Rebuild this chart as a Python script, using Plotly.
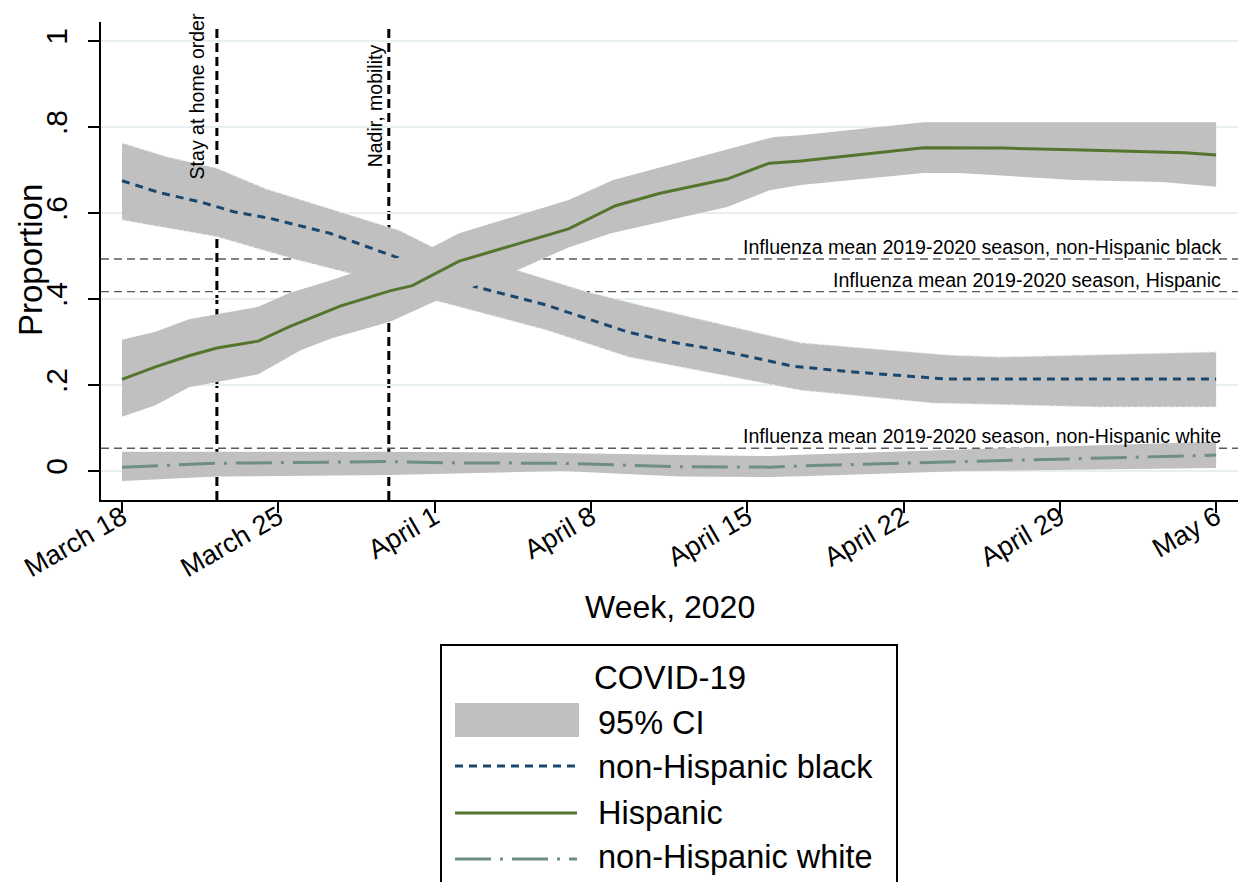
import plotly.graph_objects as go

# ---------------- data ----------------
tick_days = [0, 7, 14, 21, 28, 35, 42, 49]
tick_labels = ["March 18", "March 25", "April 1", "April 8", "April 15",
               "April 22", "April 29", "May 6"]
y_ticks = [0, 0.2, 0.4, 0.6, 0.8, 1.0]
y_tick_labels = ["0", ".2", ".4", ".6", ".8", "1"]

# days since March 18, 2020
black_days = [0, 1.7, 3.5, 4.25, 5.0, 6.6, 9.3, 12.4, 14.0, 15.8, 19.0, 20.8, 22.6,
              24.5, 26.3, 28.1, 30.0, 32.6, 34.8, 36.9, 49.0]
black_vals = [0.675, 0.647, 0.626, 0.615, 0.603, 0.588, 0.553, 0.495, 0.46, 0.429, 0.386,
              0.355, 0.324, 0.301, 0.285, 0.266, 0.244, 0.231, 0.223, 0.214, 0.214]
black_up_days = [0, 2.0, 4.25, 6.5, 9.3, 12.4, 13.9, 17.7, 20.8, 23.5, 30.4, 36.9, 39.3, 49.0]
black_up = [0.763, 0.731, 0.704, 0.655, 0.61, 0.56, 0.521, 0.467, 0.417, 0.382, 0.298,
            0.270, 0.265, 0.277]
black_lo_days = [0, 4.25, 7.7, 10.2, 12.4, 14.2, 19.0, 22.7, 30.4, 36.3, 43.8, 49.0]
black_lo = [0.584, 0.545, 0.493, 0.46, 0.435, 0.394, 0.328, 0.265, 0.188, 0.158, 0.149, 0.149]

hisp_days = [0, 1.5, 3.0, 4.25, 6.1, 7.5, 9.8, 12.0, 13.0, 15.1, 20.0, 22.1, 24.1, 27.1,
             29.0, 30.4, 35.9, 39.5, 42.6, 44.6, 47.6, 49.0]
hisp_vals = [0.213, 0.242, 0.268, 0.286, 0.302, 0.336, 0.384, 0.419, 0.431, 0.488, 0.563,
             0.617, 0.646, 0.679, 0.716, 0.721, 0.752, 0.751, 0.747, 0.744, 0.740, 0.735]
hisp_up_days = [0, 1.5, 3.0, 6.1, 7.5, 9.4, 12.0, 13.9, 15.1, 20.0, 22.0, 29.2, 30.4, 35.9, 49.0]
hisp_up = [0.305, 0.324, 0.353, 0.382, 0.414, 0.444, 0.49, 0.521, 0.553, 0.630, 0.677,
           0.777, 0.781, 0.811, 0.811]
hisp_lo_days = [0, 1.5, 3.0, 6.1, 8.0, 9.4, 12.0, 14.0, 15.8, 17.7, 20.0, 21.9, 27.1, 29.0,
                30.4, 35.9, 37.5, 42.6, 46.6, 49.0]
hisp_lo = [0.126, 0.153, 0.195, 0.225, 0.281, 0.309, 0.347, 0.394, 0.43, 0.467, 0.52, 0.553,
           0.614, 0.653, 0.665, 0.693, 0.693, 0.677, 0.672, 0.661]

white_days = [0, 4.25, 12.0, 14.6, 19.7, 25.0, 29.0, 30.4, 37.8, 42.0, 49.0]
white_vals = [0.009, 0.018, 0.022, 0.019, 0.018, 0.010, 0.009, 0.012, 0.022, 0.028, 0.037]
white_up_days = [0, 4.25, 12.0, 19.7, 25.0, 29.0, 30.4, 39.3, 49.0]
white_up = [0.045, 0.045, 0.045, 0.042, 0.037, 0.035, 0.038, 0.053, 0.068]
white_lo_days = [0, 4.25, 12.0, 19.7, 25.0, 29.0, 30.4, 37.8, 49.0]
white_lo = [-0.023, -0.013, -0.009, 0.0, -0.013, -0.014, -0.012, 0.0, 0.007]

flu_groups = ["non-Hispanic black", "Hispanic", "non-Hispanic white"]
flu_means = [0.493, 0.417, 0.053]

event_names = ["Stay at home order", "Nadir, mobility"]
event_days = [4.25, 11.95]

# ---------------- styling ----------------
FONT = "Liberation Sans, Arial, sans-serif"
NAVY = "#1a476f"
GREEN = "#55752f"
TEAL = "#6e8e84"
CI = "#c0c0c0"
GRID = "#e8eff2"
BLACK_DASH = "8px,6px"
WHITE_DASH = "36px,9px,3px,9px"

W, H = 1246, 882
OFF = 8  # page body margin
L, R, T, B = 101 - OFF, 16, 22 - OFF, 390
PW, PH = W - L - R, H - T - B


def px(x):  # screen x -> paper x
    return (x - OFF - L) / PW


def py(y):  # screen y -> paper y
    return (H - B - (y - OFF)) / PH


fig = go.Figure()


def band(up_x, up_y, lo_x, lo_y, name):
    fig.add_trace(go.Scatter(
        x=list(up_x) + list(lo_x)[::-1], y=list(up_y) + list(lo_y)[::-1],
        fill="toself", fillcolor=CI, mode="lines", line=dict(width=0),
        hoverinfo="skip", showlegend=False, name=name))


# non-Hispanic black
band(black_up_days, black_up, black_lo_days, black_lo, "CI black")
for xs, ys in [(black_up_days, black_up), (black_lo_days, black_lo)]:
    fig.add_trace(go.Scatter(x=xs, y=ys, mode="lines", showlegend=False, hoverinfo="skip",
                             line=dict(color="#e2ecee", width=1.2, dash="3px,3px")))
fig.add_trace(go.Scatter(x=black_days, y=black_vals, mode="lines", showlegend=False,
                         name="non-Hispanic black",
                         line=dict(color=NAVY, width=3, dash=BLACK_DASH)))
# Hispanic
band(hisp_up_days, hisp_up, hisp_lo_days, hisp_lo, "CI hisp")
fig.add_trace(go.Scatter(x=hisp_days, y=hisp_vals, mode="lines", showlegend=False,
                         name="Hispanic", line=dict(color=GREEN, width=3)))
# non-Hispanic white
band(white_up_days, white_up, white_lo_days, white_lo, "CI white")
fig.add_trace(go.Scatter(x=white_days, y=white_vals, mode="lines", showlegend=False,
                         name="non-Hispanic white",
                         line=dict(color=TEAL, width=3, dash=WHITE_DASH)))

# influenza reference lines + labels
for grp, m in zip(flu_groups, flu_means):
    fig.add_shape(type="line", xref="paper", yref="y", x0=0, x1=1, y0=m, y1=m,
                  layer="between", line=dict(color="#5a5a5a", width=1.3, dash="8px,5px"))
    fig.add_annotation(x=px(1223), xref="paper", y=m, yref="y", xanchor="right",
                       yanchor="bottom", showarrow=False, yshift=-1,
                       text=f"Influenza mean 2019-2020 season, {grp}",
                       font=dict(family=FONT, size=19.6, color="black"))

# event lines + labels
label_shift = [-20, -14]
label_center = [96.5, 105.5]
for name, d, sh, cy in zip(event_names, event_days, label_shift, label_center):
    fig.add_shape(type="line", xref="x", yref="paper", x0=d, x1=d, y0=0, y1=py(25),
                  layer="between", line=dict(color="black", width=3, dash="9px,5px"))
    fig.add_annotation(x=d, xref="x", xshift=sh, y=py(cy), yref="paper",
                       textangle=-90, showarrow=False, text=name,
                       xanchor="center", yanchor="middle",
                       font=dict(family=FONT, size=19.5, color="black"))

# axis titles
fig.add_annotation(x=px(30), y=py(260), xref="paper", yref="paper", text="Proportion",
                   textangle=-90, showarrow=False, xanchor="center", yanchor="middle",
                   font=dict(family=FONT, size=33, color="black"))
fig.add_annotation(x=px(670), y=py(607), xref="paper", yref="paper", text="Week, 2020",
                   showarrow=False, xanchor="center", yanchor="middle",
                   font=dict(family=FONT, size=32, color="black"))

# ---------------- manual legend ----------------
fig.add_shape(type="rect", xref="paper", yref="paper", x0=px(441), x1=px(897),
              y0=py(905), y1=py(645), line=dict(color="black", width=2))
fig.add_shape(type="rect", xref="paper", yref="paper", x0=px(455), x1=px(579),
              y0=py(737), y1=py(703), fillcolor=CI, line=dict(width=0))
for yy, col, dash in [(766, NAVY, BLACK_DASH), (813, GREEN, "solid"), (859, TEAL, WHITE_DASH)]:
    fig.add_shape(type="line", xref="paper", yref="paper", x0=px(455), x1=px(577),
                  y0=py(yy), y1=py(yy), line=dict(color=col, width=3, dash=dash))
fig.add_annotation(x=px(670), y=py(677), xref="paper", yref="paper", text="COVID-19",
                   showarrow=False, xanchor="center", yanchor="middle",
                   font=dict(family=FONT, size=33, color="black"))
for txt, yy in [("95% CI", 723), ("non-Hispanic black", 767), ("Hispanic", 813),
                ("non-Hispanic white", 857)]:
    fig.add_annotation(x=px(596), y=py(yy), xref="paper", yref="paper", text=txt,
                       showarrow=False, xanchor="left", yanchor="middle",
                       font=dict(family=FONT, size=32.5, color="black"))

fig.update_layout(
    width=W, height=H, margin=dict(l=L, r=R, t=T, b=B, autoexpand=False),
    paper_bgcolor="white", plot_bgcolor="white", showlegend=False,
    font=dict(family=FONT, color="black"),
)
fig.update_xaxes(
    range=[-0.94, 49.98], tickvals=tick_days, ticktext=tick_labels, tickangle=-30,
    tickfont=dict(family=FONT, size=27, color="black"), ticklabelstandoff=-22,
    showline=True, linecolor="black", linewidth=2, ticks="outside", ticklen=11,
    tickwidth=2, tickcolor="black", showgrid=False, zeroline=False, automargin=False,
)
fig.update_yaxes(
    range=[-0.0674, 1.0442], tickvals=y_ticks, ticktext=y_tick_labels, tickangle=-90,
    tickfont=dict(family=FONT, size=30, color="black"), ticklabelstandoff=9,
    showline=True, linecolor="black", linewidth=2, ticks="outside", ticklen=11,
    tickwidth=2, tickcolor="black", showgrid=True, gridcolor=GRID, gridwidth=2,
    zeroline=False, automargin=False,
)

fig.write_html("out.html")
